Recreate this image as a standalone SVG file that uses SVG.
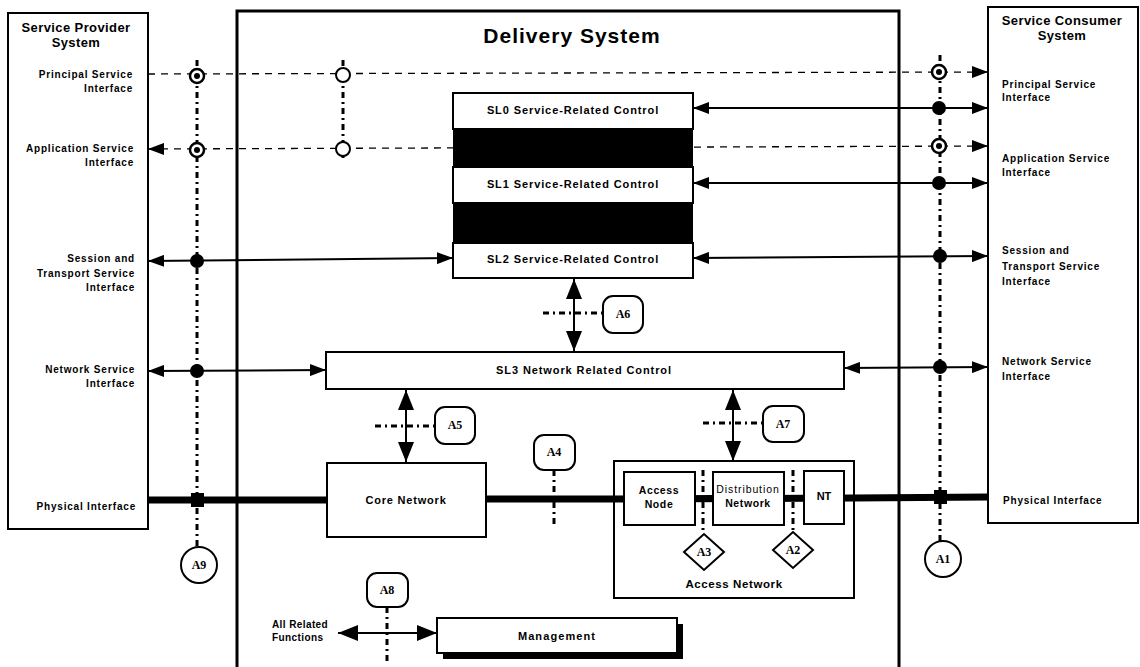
<svg xmlns="http://www.w3.org/2000/svg" width="1140" height="667" viewBox="0 0 1140 667">
<style>
text{font-family:"Liberation Sans",Arial,sans-serif;font-weight:bold;fill:#000}
.lbl{font-size:10px;letter-spacing:0.8px}
.ttl{font-size:13px;letter-spacing:0.4px}
.box{fill:#fff;stroke:#000;stroke-width:2}
.ak{font-family:"Liberation Serif","Times New Roman",serif;font-size:12px;text-anchor:middle}
.dd{fill:none;stroke:#000;stroke-width:3;stroke-dasharray:6 4 2 4}
.dash{fill:none;stroke:#000;stroke-width:1.3;stroke-dasharray:7 6}
.sol{fill:none;stroke:#000;stroke-width:2}
.thick{fill:none;stroke:#000;stroke-width:7}
.tc{text-anchor:middle}
.te{text-anchor:end}
.sl{font-size:11px;letter-spacing:0.9px}
</style>
<defs>
<marker id="ah" markerUnits="userSpaceOnUse" markerWidth="16" markerHeight="12" refX="16" refY="6" orient="auto-start-reverse"><path d="M0,0 L16,6 L0,12 z" fill="#000"/></marker>
<marker id="ab" markerUnits="userSpaceOnUse" markerWidth="20" markerHeight="16" refX="20" refY="8" orient="auto-start-reverse"><path d="M0,0 L20,8 L0,16 z" fill="#000"/></marker>
</defs>
<rect width="1140" height="667" fill="#fff"/>

<g id="delivery-system">
<rect x="237" y="11" width="662" height="670" fill="none" stroke="#000" stroke-width="3"/>
<text x="572" y="43" class="tc" style="font-size:21px;letter-spacing:1px">Delivery System</text>
</g>

<g id="service-provider">
<rect x="8" y="13" width="140" height="516" class="box"/>
<text x="76" y="32" class="ttl tc">Service Provider</text>
<text x="76" y="47" class="ttl tc">System</text>
<text x="133" y="78" class="lbl te">Principal Service</text>
<text x="133" y="92" class="lbl te">Interface</text>
<text x="134" y="152" class="lbl te">Application Service</text>
<text x="134" y="166" class="lbl te">Interface</text>
<text x="135" y="262" class="lbl te">Session and</text>
<text x="135" y="277" class="lbl te">Transport Service</text>
<text x="135" y="291" class="lbl te">Interface</text>
<text x="135" y="373" class="lbl te">Network Service</text>
<text x="135" y="387" class="lbl te">Interface</text>
<text x="136" y="510" class="lbl te">Physical Interface</text>
</g>

<g id="service-consumer">
<rect x="988" y="7" width="150" height="516" class="box"/>
<text x="1062" y="25" class="ttl tc">Service Consumer</text>
<text x="1062" y="40" class="ttl tc">System</text>
<text x="1002" y="88" class="lbl">Principal Service</text>
<text x="1002" y="101" class="lbl">Interface</text>
<text x="1002" y="162" class="lbl">Application Service</text>
<text x="1002" y="176" class="lbl">Interface</text>
<text x="1002" y="254" class="lbl">Session and</text>
<text x="1002" y="270" class="lbl">Transport  Service</text>
<text x="1002" y="285" class="lbl">Interface</text>
<text x="1002" y="365" class="lbl">Network Service</text>
<text x="1002" y="380" class="lbl">Interface</text>
<text x="1003" y="504" class="lbl">Physical Interface</text>
</g>

<g id="connectors">
<line x1="197" y1="60" x2="197" y2="548" class="dd"/>
<line x1="940" y1="55" x2="940" y2="542" class="dd"/>
<line x1="343" y1="60" x2="343" y2="158" class="dd"/>
<line x1="148" y1="74" x2="988" y2="72" class="dash" marker-end="url(#ah)"/>
<line x1="148" y1="149" x2="988" y2="146" class="dash" marker-start="url(#ah)" marker-end="url(#ah)"/>
<line x1="693" y1="108" x2="988" y2="108" class="sol" marker-start="url(#ah)" marker-end="url(#ah)"/>
<line x1="693" y1="183" x2="988" y2="183" class="sol" marker-start="url(#ah)" marker-end="url(#ah)"/>
<line x1="148" y1="261" x2="453" y2="258" class="sol" marker-start="url(#ah)" marker-end="url(#ah)"/>
<line x1="693" y1="258" x2="988" y2="256" class="sol" marker-start="url(#ah)" marker-end="url(#ah)"/>
<line x1="148" y1="371" x2="326" y2="370" class="sol" marker-start="url(#ah)" marker-end="url(#ah)"/>
<line x1="844" y1="368" x2="988" y2="367" class="sol" marker-start="url(#ah)" marker-end="url(#ah)"/>
<line x1="148" y1="500" x2="327" y2="500" class="thick"/>
<line x1="486" y1="499" x2="614" y2="499" class="thick"/>
<line x1="854" y1="498" x2="988" y2="497" class="thick"/>
<circle cx="197" cy="76" r="7" fill="#fff" stroke="#000" stroke-width="2.5"/><circle cx="197" cy="76" r="3" fill="#000"/>
<circle cx="197" cy="150" r="7" fill="#fff" stroke="#000" stroke-width="2.5"/><circle cx="197" cy="150" r="3" fill="#000"/>
<circle cx="939" cy="72" r="7" fill="#fff" stroke="#000" stroke-width="2.5"/><circle cx="939" cy="72" r="3" fill="#000"/>
<circle cx="939" cy="146" r="7" fill="#fff" stroke="#000" stroke-width="2.5"/><circle cx="939" cy="146" r="3" fill="#000"/>
<circle cx="343" cy="75" r="7" fill="#fff" stroke="#000" stroke-width="2"/>
<circle cx="343" cy="149" r="7" fill="#fff" stroke="#000" stroke-width="2"/>
<circle cx="939" cy="108" r="7" fill="#000"/>
<circle cx="939" cy="183" r="7" fill="#000"/>
<circle cx="197" cy="261" r="7" fill="#000"/>
<circle cx="940" cy="256" r="7" fill="#000"/>
<circle cx="197" cy="371" r="7" fill="#000"/>
<circle cx="940" cy="367" r="7" fill="#000"/>
<rect x="191" y="493" width="13" height="14" fill="#000"/>
<rect x="934" y="490" width="13" height="14" fill="#000"/>
<line x1="574" y1="279" x2="574" y2="351" class="sol" stroke-width="2.5" marker-start="url(#ab)" marker-end="url(#ab)"/>
<line x1="543" y1="313" x2="603" y2="313" class="dd"/>
<line x1="406" y1="390" x2="406" y2="462" class="sol" stroke-width="2.5" marker-start="url(#ab)" marker-end="url(#ab)"/>
<line x1="375" y1="426" x2="435" y2="426" class="dd"/>
<line x1="733" y1="390" x2="733" y2="461" class="sol" stroke-width="2.5" marker-start="url(#ab)" marker-end="url(#ab)"/>
<line x1="703" y1="423" x2="763" y2="423" class="dd"/>
<line x1="554" y1="470" x2="554" y2="525" class="dd"/>
<line x1="338" y1="633" x2="437" y2="633" class="sol" stroke-width="2" marker-start="url(#ab)" marker-end="url(#ab)"/>
<line x1="387" y1="607" x2="387" y2="662" class="dd"/>
</g>

<g id="sl-block">
<rect x="453" y="93" width="240" height="36" class="box"/>
<rect x="453" y="129" width="240" height="38" fill="#000"/>
<rect x="453" y="167" width="240" height="36" class="box"/>
<rect x="453" y="203" width="240" height="40" fill="#000"/>
<rect x="453" y="243" width="240" height="35" class="box"/>
<text x="573" y="114" class="tc sl">SL0 Service-Related Control</text>
<text x="573" y="188" class="tc sl">SL1 Service-Related Control</text>
<text x="573" y="263" class="tc sl">SL2 Service-Related Control</text>
</g>

<g id="sl3">
<rect x="326" y="352" width="518" height="37" class="box"/>
<text x="584" y="374" class="tc sl">SL3 Network Related Control</text>
</g>

<g id="core-network">
<rect x="327" y="463" width="159" height="74" class="box"/>
<text x="406" y="504" class="tc" style="font-size:11px;letter-spacing:0.8px">Core Network</text>
</g>

<g id="access-network">
<rect x="614" y="461" width="240" height="137" class="box"/>
<line x1="614" y1="499" x2="854" y2="498" class="thick"/>
<text x="734" y="588" class="tc" style="font-size:11.5px;letter-spacing:0.6px">Access Network</text>
</g>
<g id="ref-a3a2">
<line x1="703" y1="470" x2="703" y2="534" class="dd"/>
<line x1="793" y1="470" x2="793" y2="532" class="dd"/>
</g>
<g id="access-node">
<rect x="624" y="472" width="71" height="53" class="box"/>
<text x="659" y="494" class="tc" style="font-size:10.5px;letter-spacing:0.6px">Access</text>
<text x="659" y="508" class="tc" style="font-size:10.5px;letter-spacing:0.6px">Node</text>
</g>
<g id="distribution-network">
<rect x="713" y="472" width="71" height="53" class="box"/>
<text x="748" y="493" class="tc" style="font-size:10.5px;font-weight:normal;letter-spacing:0.9px">Distribution</text>
<text x="748" y="507" class="tc" style="font-size:10.5px;letter-spacing:0.6px">Network</text>
</g>
<g id="nt">
<rect x="804" y="471" width="40" height="53" class="box"/>
<text x="824" y="500" class="tc" style="font-size:11px">NT</text>
</g>

<g id="management">
<rect x="443" y="624" width="240" height="35" fill="#000"/>
<rect x="437" y="618" width="240" height="35" class="box"/>
<text x="557" y="640" class="tc" style="font-size:11px;letter-spacing:1.1px">Management</text>
<text x="272" y="628" style="font-size:10px;letter-spacing:0.4px">All Related</text>
<text x="272" y="641" style="font-size:10px;letter-spacing:0.4px">Functions</text>
</g>

<g id="ref-labels">
<g id="A1"><circle cx="943" cy="559" r="18" fill="#fff" stroke="#000" stroke-width="2"/><text x="943" y="563" class="ak">A1</text></g>
<g id="A9"><circle cx="199" cy="565" r="18" fill="#fff" stroke="#000" stroke-width="2"/><text x="199" y="569" class="ak">A9</text></g>
<g id="A2"><polygon points="773,550 793,532 813,550 793,568" fill="#fff" stroke="#000" stroke-width="2"/><text x="793" y="554" class="ak">A2</text></g>
<g id="A3"><polygon points="684,552 704,534 724,552 704,570" fill="#fff" stroke="#000" stroke-width="2"/><text x="704" y="556" class="ak">A3</text></g>
<g id="A4"><rect x="534" y="435" width="41" height="35" rx="10" fill="#fff" stroke="#000" stroke-width="2"/><text x="554" y="456" class="ak">A4</text></g>
<g id="A5"><rect x="435" y="407" width="40" height="37" rx="10" fill="#fff" stroke="#000" stroke-width="2"/><text x="455" y="429" class="ak">A5</text></g>
<g id="A6"><rect x="603" y="296" width="40" height="37" rx="10" fill="#fff" stroke="#000" stroke-width="2"/><text x="623" y="318" class="ak">A6</text></g>
<g id="A7"><rect x="763" y="406" width="41" height="36" rx="10" fill="#fff" stroke="#000" stroke-width="2"/><text x="783" y="428" class="ak">A7</text></g>
<g id="A8"><rect x="367" y="573" width="41" height="34" rx="10" fill="#fff" stroke="#000" stroke-width="2"/><text x="387" y="594" class="ak">A8</text></g>
</g>
</svg>
